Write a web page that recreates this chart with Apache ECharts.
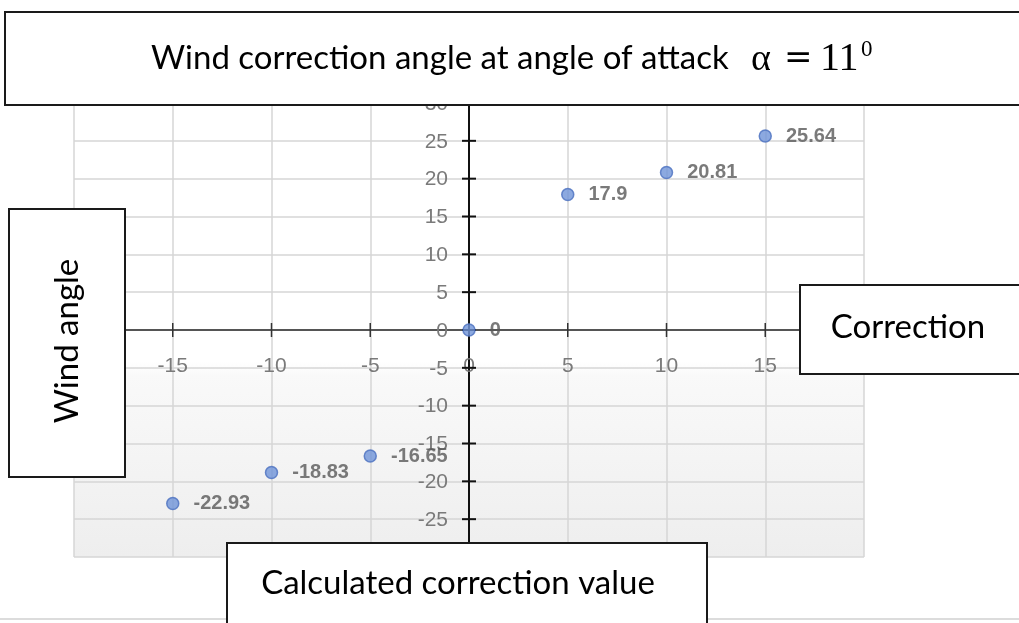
<!DOCTYPE html>
<html>
<head>
<meta charset="utf-8">
<style>html,body{margin:0;padding:0;background:#fff;}#c{width:1019px;height:623px;}</style>
<script src="https://cdn.jsdelivr.net/npm/echarts/dist/echarts.min.js"></script>
</head>
<body>
<div id="c"></div>
<script>
var xValues = [-15, -10, -5, 0, 5, 10, 15];
var yValues = [-22.93, -18.83, -16.65, 0, 17.9, 20.81, 25.64];
var xTicks = [-20, -15, -10, -5, 0, 5, 10, 15, 20];
var yTicks = [-30, -25, -20, -15, -10, -5, 0, 5, 10, 15, 20, 25, 30];
var titleMain = 'Wind correction angle at angle of attack';
var titleAlpha = '\u03b1';
var titleEq = '=';
var titleNum = '11';
var titleSup = '0';
var yTitle = 'Wind angle';
var xTitle = 'Correction';
var bottomTitle = 'Calculated correction value';

var points = xValues.map(function (x, i) { return [x, yValues[i]]; });
var tickData = xTicks.map(function (v) { return [v, 0, 'x', String(v)]; })
  .concat(yTicks.map(function (v) { return [0, v, 'y', String(v)]; }));

var chart = echarts.init(document.getElementById('c'), null, {renderer: 'canvas'});
var gridLine = {show: true, lineStyle: {color: '#d6d6d6', width: 1.5}};
var boxStroke = {fill: '#fff', stroke: '#1a1a1a', lineWidth: 2};
function txt(s, x, y, font, size, align) {
  return {type: 'text', x: x, y: y, z: 101, style: {
    text: s, align: align || 'left', verticalAlign: 'middle',
    fontFamily: font, fontSize: size, fill: '#000'
  }};
}

chart.setOption({
  animation: false,
  backgroundColor: '#fff',
  grid: {
    left: 74, right: 155, top: 103, bottom: 66,
    show: true,
    borderWidth: 0,
    backgroundColor: new echarts.graphic.LinearGradient(0, 0, 0, 1, [
      {offset: 0, color: '#ffffff'},
      {offset: 0.57, color: '#ffffff'},
      {offset: 0.6, color: '#f9f9f9'},
      {offset: 1, color: '#eeeeee'}
    ])
  },
  xAxis: {
    type: 'value', min: -20, max: 20, interval: 5,
    axisLine: {onZero: true, lineStyle: {color: '#555', width: 2}},
    axisTick: {show: false},
    axisLabel: {show: false},
    splitLine: gridLine
  },
  yAxis: {
    type: 'value', min: -30, max: 30, interval: 5,
    axisLine: {onZero: true, lineStyle: {color: '#111', width: 2}},
    axisTick: {show: false},
    axisLabel: {show: false},
    splitLine: gridLine
  },
  series: [{
    type: 'custom',
    data: tickData,
    silent: true,
    clip: false,
    z: 3,
    renderItem: function (params, api) {
      var d = tickData[params.dataIndex];
      var p = api.coord([d[0], d[1]]);
      var isX = d[2] === 'x';
      var L = 7;
      return {
        type: 'group',
        children: [{
          type: 'line',
          shape: isX ? {x1: p[0], y1: p[1] - L, x2: p[0], y2: p[1] + L}
                     : {x1: p[0] - L, y1: p[1], x2: p[0] + L, y2: p[1]},
          style: {stroke: isX ? '#333' : '#111', lineWidth: isX ? 1.5 : 2}
        }, {
          type: 'text',
          x: isX ? p[0] : p[0] - 21,
          y: isX ? p[1] + 36 : p[1] + 1,
          style: {
            text: d[3], align: isX ? 'center' : 'right', verticalAlign: 'middle',
            fill: '#7a7a7a', fontSize: 21, fontFamily: 'Liberation Sans'
          }
        }]
      };
    }
  }, {
    type: 'scatter',
    data: points,
    symbolSize: 12,
    itemStyle: {color: '#6f94d8', borderColor: '#4a6fbf', borderWidth: 1.5},
    label: {
      show: true, position: 'right', distance: 14,
      formatter: function (p) { return String(p.value[1]); },
      color: '#595959', fontSize: 20, fontWeight: 'bold', fontFamily: 'Liberation Sans'
    },
    z: 5
  }],
  graphic: [
    {type: 'line', shape: {x1: 0, y1: 619, x2: 1019, y2: 619}, style: {stroke: '#d0d0d0', lineWidth: 1.5}, z: 50},
    {type: 'rect', shape: {x: 5, y: 12, width: 1030, height: 93}, style: boxStroke, z: 100},
    txt(titleMain, 151, 58, 'Lato', 33),
    txt(titleAlpha, 751, 60, 'Liberation Serif', 38),
    txt(titleEq, 784, 59, 'DejaVu Serif', 34),
    txt(titleNum, 820, 59, 'Liberation Serif', 40),
    txt(titleSup, 861, 50, 'Liberation Serif', 23),
    {type: 'rect', shape: {x: 9, y: 209, width: 116, height: 268}, style: boxStroke, z: 100},
    {type: 'text', x: 67, y: 341, rotation: Math.PI / 2, z: 101, style: {
      text: yTitle, align: 'center', verticalAlign: 'middle',
      fontFamily: 'Lato', fontSize: 33, fill: '#000'
    }},
    {type: 'rect', shape: {x: 800, y: 285, width: 230, height: 89}, style: boxStroke, z: 100},
    txt(xTitle, 908, 327, 'Lato', 33, 'center'),
    {type: 'rect', shape: {x: 227, y: 543, width: 480, height: 95}, style: boxStroke, z: 100},
    txt(bottomTitle, 458, 583, 'Lato', 33, 'center')
  ]
});
</script>
</body>
</html>
